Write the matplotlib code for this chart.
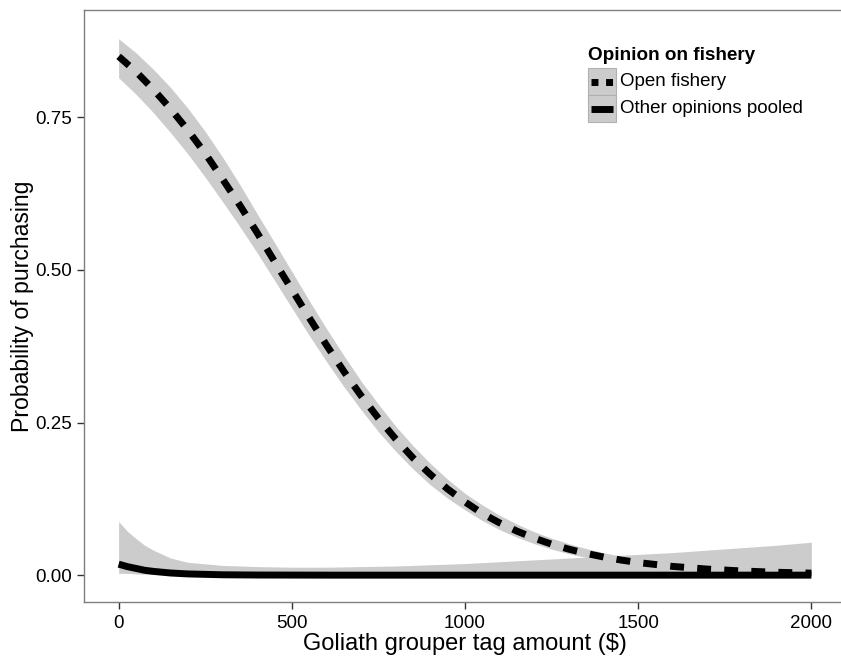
import matplotlib
matplotlib.use("Agg")
import matplotlib.pyplot as plt
from matplotlib.patches import Rectangle
from matplotlib.lines import Line2D

plt.rcParams["font.family"] = ["Liberation Sans", "DejaVu Sans"]

# ---- open fishery: fitted probability + 95% band ----
open_x = [0, 50, 100, 150, 200, 250, 300, 350, 400, 450, 500, 550, 600, 650, 700, 750,
          800, 850, 900, 950, 1000, 1050, 1100, 1150, 1200, 1250, 1300, 1350, 1400, 1450,
          1500, 1600, 1700, 1800, 1900, 2000]
open_fit = [0.850, 0.825, 0.796, 0.764, 0.729, 0.691, 0.649, 0.606, 0.561, 0.514, 0.468, 0.422,
            0.377, 0.334, 0.294, 0.257, 0.223, 0.192, 0.165, 0.141, 0.120, 0.101, 0.0856, 0.0721,
            0.0606, 0.0508, 0.0425, 0.0356, 0.0297, 0.0248, 0.0206, 0.0143, 0.0099, 0.0068,
            0.0047, 0.0033]
open_hi = [0.879, 0.856, 0.829, 0.799, 0.765, 0.727, 0.685, 0.640, 0.592, 0.545, 0.4975, 0.450,
           0.404, 0.360, 0.318, 0.280, 0.244, 0.212, 0.183, 0.157, 0.134, 0.115, 0.0981, 0.0836,
           0.0710, 0.0605, 0.0515, 0.0435, 0.0367, 0.0311, 0.0263, 0.0188, 0.0134, 0.0096,
           0.0068, 0.0048]
open_lo = [0.815, 0.788, 0.758, 0.725, 0.690, 0.652, 0.612, 0.571, 0.528, 0.483, 0.438, 0.393,
           0.350, 0.309, 0.271, 0.235, 0.203, 0.174, 0.148, 0.126, 0.107, 0.0894, 0.0746, 0.0621,
           0.0516, 0.0426, 0.0351, 0.0290, 0.0240, 0.0197, 0.0162, 0.0108, 0.0073, 0.0049,
           0.0033, 0.0022]

# ---- other opinions pooled ----
other_x = [0, 25, 50, 75, 100, 150, 200, 300, 400, 500, 600, 700, 800, 900, 1000,
           1100, 1200, 1300, 1400, 1500, 1600, 1700, 1800, 1900, 2000]
other_fit = [0.018, 0.014, 0.011, 0.008, 0.0062, 0.0035, 0.002, 0.0006, 0.0002, 0.0001, 0.0, 0.0, 0.0, 0.0, 0.0,
             0.0, 0.0, 0.0, 0.0, 0.0, 0.0, 0.0, 0.0, 0.0, 0.0]
other_hi = [0.088, 0.072, 0.060, 0.049, 0.041, 0.028, 0.021, 0.016, 0.014, 0.013, 0.013, 0.014, 0.015, 0.017, 0.019,
            0.022, 0.025, 0.028, 0.031, 0.034, 0.037, 0.041, 0.045, 0.049, 0.054]
other_lo = [0.003, 0.003, 0.002, 0.0015, 0.001, 0.0005, 0.0003, 0.0, 0.0, 0.0, 0.0, 0.0, 0.0, 0.0, 0.0,
            0.0, 0.0, 0.0, 0.0, 0.0, 0.0, 0.0, 0.0, 0.0, 0.0]

x_ticks = [0, 500, 1000, 1500, 2000]
y_ticks = [0.0, 0.25, 0.50, 0.75]
y_ticklabels = ["0.00", "0.25", "0.50", "0.75"]

legend_title = "Opinion on fishery"
legend_labels = ["Open fishery", "Other opinions pooled"]

RIBBON = "#cccccc"
W, H = 841, 657

fig = plt.figure(figsize=(W / 100, H / 100), dpi=100)
ax = fig.add_axes([84 / W, 55 / H, (846 - 84) / W, (602 - 10) / H])

ax.fill_between(other_x, other_lo, other_hi, color=RIBBON, lw=0)
ax.fill_between(open_x, open_lo, open_hi, color=RIBBON, lw=0)
ax.plot(other_x, other_fit, color="black", lw=5, solid_capstyle="butt")
ln, = ax.plot(open_x, open_fit, color="black", lw=5, dash_capstyle="butt")
ln.set_dashes((2.0, 1.9))

ax.set_xlim(-100, 2100)
ax.set_ylim(-0.044, 0.926)
ax.set_xticks(x_ticks)
ax.set_yticks(y_ticks)
ax.set_yticklabels(y_ticklabels)
ax.tick_params(length=5, width=1, color="#333333", labelsize=13.5, labelcolor="black", pad=4)
for s in ax.spines.values():
    s.set_color("#7f7f7f"); s.set_linewidth(1)

ax.set_xlabel("Goliath grouper tag amount ($)", fontsize=17, labelpad=1)
ax.set_ylabel("Probability of purchasing", fontsize=16.6, labelpad=0.5)

# ---- legend, drawn by hand like ggplot's key boxes (pixel coords, y from top) ----
def fx(x): return x / W
def fy(y): return (H - y) / H

fig.text(fx(588), fy(55), legend_title, fontsize=13.6, fontweight="bold", va="center", ha="left")
for i, lab in enumerate(legend_labels):
    top = 68 + 27 * i
    fig.add_artist(Rectangle((fx(588), fy(top + 27)), 28 / W, 27 / H, transform=fig.transFigure,
                             facecolor=RIBBON, edgecolor="#b0b0b0", lw=0.8))
    yc = fy(top + 13.5)
    key = Line2D([fx(591), fx(613)], [yc, yc], transform=fig.transFigure, color="black", lw=5,
                 solid_capstyle="butt", dash_capstyle="butt")
    if i == 0:
        key.set_dashes((1.0, 1.1))
    fig.add_artist(key)
    fig.text(fx(620), yc, lab, fontsize=13.5, va="center", ha="left")

fig.savefig("out.png", dpi=100)
